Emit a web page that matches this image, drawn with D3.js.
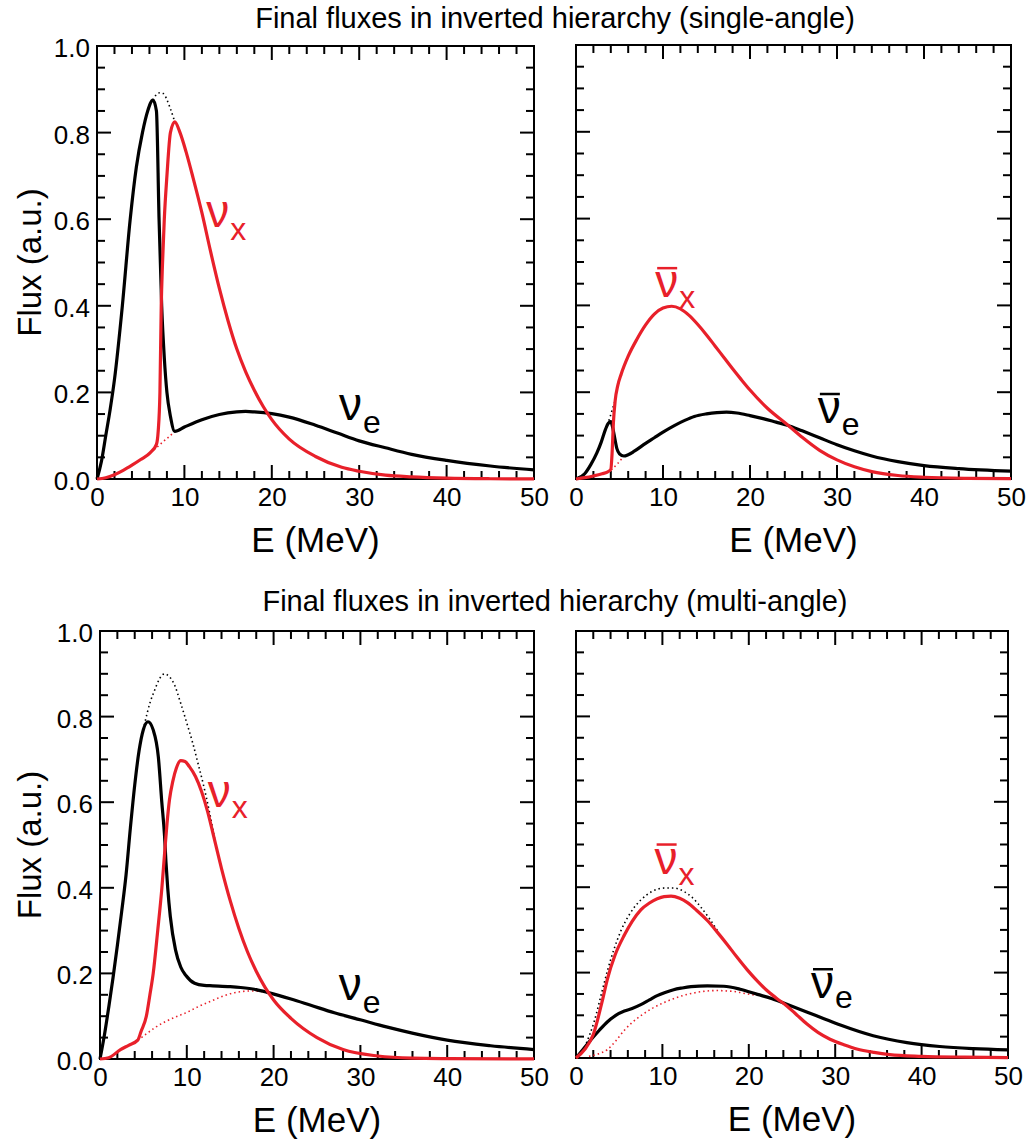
<!DOCTYPE html>
<html>
<head>
<meta charset="utf-8">
<title>Final fluxes in inverted hierarchy</title>
<script src="https://cdnjs.cloudflare.com/ajax/libs/d3/7.8.5/d3.min.js"></script>
<style>
	body { margin: 0; background: #fff; }
	text { font-family: "Liberation Sans", Arial, sans-serif; }
</style>
</head>
<body>
<div id="chart-area"></div>
<script>

// Tick labels
var energyTicks = [0, 10, 20, 30, 40, 50];
var fluxTicks = [0.0, 0.2, 0.4, 0.6, 0.8, 1.0];

var titles = ["Final fluxes in inverted hierarchy (single-angle)",
		"Final fluxes in inverted hierarchy (multi-angle)"];

// Single-angle, neutrinos: [E (MeV), flux]
var saNueFinal = [[0,0],[0.5,0.04],[1,0.1],[1.5,0.16],[2,0.23],[2.9,0.4],[3.8,0.6],[4.5,0.72],[5.2,0.8],[5.8,0.85],[6.4,0.875],[6.8,0.85],[7.1,0.6],[7.4,0.4],[7.7,0.28],[8.0,0.2],[8.4,0.145],[8.9,0.11],[10,0.12],[12,0.137],[14,0.149],[16,0.155],[17,0.156],[18,0.155],[20,0.151],[22,0.143],[25,0.124],[27.5,0.106],[30,0.088],[33,0.072],[36,0.057],[40,0.043],[45,0.03],[50,0.021]];
var saNuxFinal = [[0,0],[1,0.003],[2,0.01],[3,0.02],[4,0.032],[5,0.045],[6.1,0.061],[6.8,0.08],[7.0,0.11],[7.2,0.2],[7.35,0.4],[7.5,0.5],[7.7,0.6],[8.0,0.7],[8.4,0.8],[8.9,0.825],[9.5,0.8],[10.2,0.755],[11,0.695],[12,0.615],[13,0.525],[14,0.44],[15,0.365],[16,0.3],[17,0.248],[18,0.205],[19,0.168],[20,0.137],[22,0.092],[25,0.052],[28,0.027],[30,0.018],[33,0.009],[36,0.005],[40,0.002],[45,0.0006],[50,0.0002]];
var saNueInit = [[6.4,0.875],[6.8,0.888],[7.2,0.892],[7.6,0.89],[8.0,0.876],[8.4,0.855],[8.9,0.825]];
var saNuxInit = [[6.1,0.061],[6.8,0.072],[7.5,0.085],[8.2,0.097],[8.9,0.11]];

// Single-angle, antineutrinos
var saAnueFinal = [[0,0],[1,0.012],[1.7,0.033],[2.4,0.06],[2.9,0.085],[3.4,0.115],[3.7,0.128],[4.0,0.132],[4.2,0.12],[4.4,0.1],[4.7,0.07],[5.0,0.058],[5.5,0.053],[6.0,0.056],[6.7,0.064],[8,0.082],[9,0.095],[10,0.108],[11.3,0.123],[12.5,0.135],[13.6,0.144],[15,0.15],[16.2,0.153],[17.3,0.154],[18.5,0.152],[20,0.146],[21.5,0.139],[23,0.131],[24.3,0.124],[26,0.111],[28,0.095],[30,0.079],[32,0.065],[34,0.053],[37,0.04],[40,0.031],[44,0.024],[50,0.018]];
var saAnuxFinal = [[0,0],[1,0.003],[2,0.007],[3,0.012],[3.6,0.016],[4.0,0.022],[4.15,0.06],[4.3,0.13],[4.5,0.18],[4.8,0.215],[5.2,0.242],[6,0.283],[7,0.322],[8,0.355],[9,0.38],[10,0.394],[11,0.398],[12,0.392],[13,0.377],[14,0.356],[15,0.332],[16,0.306],[17,0.28],[18,0.254],[19,0.229],[20,0.205],[22,0.163],[24.3,0.125],[26,0.096],[28,0.066],[30,0.044],[32,0.028],[34,0.017],[37,0.008],[40,0.004],[45,0.0015],[50,0.0008]];
var saAnueInit = [[3.6,0.125],[3.9,0.142],[4.2,0.162],[4.5,0.18]];
var saAnuxInit = [[3.6,0.016],[4.2,0.024],[4.8,0.036],[5.5,0.053]];

// Multi-angle, neutrinos
var maNueFinal = [[0,0],[0.5,0.055],[1,0.12],[1.5,0.19],[2,0.265],[2.5,0.345],[3,0.43],[3.5,0.54],[4,0.64],[4.5,0.72],[5,0.77],[5.53,0.788],[6.13,0.769],[6.72,0.706],[7.12,0.6],[7.44,0.52],[7.6,0.46],[7.8,0.4],[8.1,0.333],[8.7,0.255],[9.3,0.215],[9.9,0.195],[10.9,0.177],[12,0.172],[13,0.171],[15,0.169],[16.2,0.167],[18,0.162],[19.4,0.155],[22,0.14],[24.2,0.126],[27,0.108],[30.1,0.091],[33,0.075],[36.1,0.06],[40,0.044],[45,0.031],[50,0.022]];
var maNuxFinal = [[0,0],[1,0.003],[2.36,0.022],[3.3,0.032],[4.35,0.044],[4.74,0.065],[5.34,0.1],[5.75,0.15],[6.13,0.2],[6.65,0.3],[7.13,0.4],[7.44,0.48],[7.72,0.55],[8.0,0.605],[8.4,0.65],[8.8,0.68],[9.3,0.697],[9.8,0.695],[10.3,0.683],[11,0.66],[11.7,0.625],[12.4,0.578],[13.1,0.52],[14,0.445],[15,0.37],[16,0.305],[17,0.25],[18,0.205],[19,0.168],[20,0.138],[22,0.095],[25,0.05],[28,0.022],[32,0.007],[36,0.002],[40,0.001],[50,0.0002]];
var maNueInit = [[5.1,0.78],[5.8,0.835],[6.3,0.862],[6.9,0.89],[7.44,0.9],[8,0.893],[8.5,0.878],[9.3,0.831],[10,0.785],[10.7,0.737],[11.3,0.69],[11.9,0.642],[12.6,0.578],[13.2,0.515]];
var maNuxInit = [[4.35,0.044],[5.3,0.058],[6.3,0.073],[7.5,0.087],[8.7,0.098],[9.9,0.108],[11.5,0.124],[13.1,0.138],[14.3,0.148],[15.5,0.155],[16.5,0.158],[17.5,0.159],[19,0.157]];

// Multi-angle, antineutrinos
var maAnueFinal = [[0,0],[0.9,0.022],[1.7,0.042],[2.7,0.065],[3.65,0.085],[4.6,0.1],[5.6,0.11],[6.5,0.116],[7.5,0.125],[8.5,0.136],[9.4,0.146],[10.4,0.154],[11.3,0.16],[12.3,0.164],[13.3,0.167],[15.2,0.169],[17.1,0.168],[19,0.161],[21,0.149],[22.7,0.139],[24.4,0.126],[26.7,0.108],[28.7,0.092],[30.6,0.077],[34.4,0.052],[38.3,0.036],[42.1,0.027],[46,0.022],[50,0.019]];
var maAnuxFinal = [[0,0],[1,0.02],[2,0.055],[3,0.13],[3.65,0.186],[4.5,0.24],[5.6,0.288],[6.5,0.32],[7.5,0.347],[8.5,0.363],[9.4,0.373],[10.2,0.378],[11,0.379],[12,0.374],[12.9,0.364],[14,0.345],[15.2,0.322],[16.3,0.296],[17.5,0.266],[18.6,0.237],[19.8,0.207],[21,0.18],[22.1,0.158],[23.2,0.14],[24.4,0.122],[25.5,0.102],[26.7,0.08],[28,0.06],[29.4,0.044],[31,0.031],[32.5,0.021],[34.5,0.013],[36.3,0.008],[40,0.004],[45,0.002],[50,0.001]];
var maAnueInit = [[1.2,0.035],[2.1,0.085],[3,0.155],[3.65,0.205],[4.4,0.255],[5.2,0.298],[6.3,0.34],[7.5,0.37],[8.8,0.39],[10.2,0.398],[11.3,0.398],[12.5,0.39],[13.5,0.375],[14.5,0.352],[15.5,0.325],[16.5,0.294]];
var maAnuxInit = [[1.5,0.004],[2.5,0.009],[3.65,0.02],[4.6,0.04],[5.6,0.065],[6.5,0.083],[7.5,0.099],[8.8,0.116],[10.2,0.13],[11.3,0.139],[12.5,0.147],[13.8,0.153],[15.2,0.157],[16.3,0.158],[17.5,0.157],[18.6,0.155],[19.8,0.15],[21,0.147]];

var red = "#e8202a";

var panels = [
	{ left:97, top:46, width:437, height:433, yLabels:true,
		black:saNueFinal, red:saNuxFinal, blackDot:saNueInit, redDot:saNuxInit,
		labels:[{ e:12.5, f:0.582, sub:"x", bar:false, color:red, shift:13 },
				{ e:27.7, f:0.136, sub:"e", bar:false, color:"#000", shift:13 }] },
	{ left:576, top:45, width:435, height:434, yLabels:false,
		black:saAnueFinal, red:saAnuxFinal, blackDot:saAnueInit, redDot:saAnuxInit,
		labels:[{ e:9.1, f:0.419, sub:"x", bar:true, color:red, shift:11 },
				{ e:27.8, f:0.129, sub:"e", bar:true, color:"#000", shift:12 }] },
	{ left:100, top:631, width:434, height:428, yLabels:true,
		black:maNueFinal, red:maNuxFinal, blackDot:maNueInit, redDot:maNuxInit,
		labels:[{ e:12.4, f:0.589, sub:"x", bar:false, color:red, shift:11 },
				{ e:27.5, f:0.138, sub:"e", bar:false, color:"#000", shift:13 }] },
	{ left:576, top:631, width:432, height:427, yLabels:false,
		black:maAnueFinal, red:maAnuxFinal, blackDot:maAnueInit, redDot:maAnuxInit,
		labels:[{ e:9.1, f:0.432, sub:"x", bar:true, color:red, shift:11 },
				{ e:27.2, f:0.14, sub:"e", bar:true, color:"#000", shift:10 }] }
];

var svg = d3.select("#chart-area")
		.append("svg")
				.attr("width", 1028)
				.attr("height", 1142);

// Titles
svg.append("text")
		.attr("x", 555)
		.attr("y", 28)
		.attr("font-size", "29px")
		.attr("text-anchor", "middle")
		.text(titles[0]);
svg.append("text")
		.attr("x", 555)
		.attr("y", 611)
		.attr("font-size", "29px")
		.attr("text-anchor", "middle")
		.text(titles[1]);

panels.forEach(function(p){
		var g = svg.append("g")
				.attr("transform", "translate(" + p.left + ", " + p.top + ")");

		var x = d3.scaleLinear().domain([0, 50]).range([0, p.width]);
		var y = d3.scaleLinear().domain([0, 1]).range([p.height, 0]);

		// minor every 2 MeV and every 0.05, major on the labelled values
		var xTicks = d3.range(0, 51, 2).map(function(v){
				return { v: v, len: energyTicks.indexOf(v) >= 0 ? 14 : 8 };
		});
		var yTicks = d3.range(0, 21).map(function(i){
				return { v: i * 0.05, len: i % 4 === 0 ? 14 : 8 };
		});

		// Ticks on all four sides, pointing in
		var ticks = g.append("g")
				.attr("stroke", "#000")
				.attr("stroke-width", 2);
		ticks.selectAll(".tb").data(xTicks).enter().append("line")
				.attr("x1", function(d){ return x(d.v); })
				.attr("x2", function(d){ return x(d.v); })
				.attr("y1", p.height)
				.attr("y2", function(d){ return p.height - d.len; });
		ticks.selectAll(".tt").data(xTicks).enter().append("line")
				.attr("x1", function(d){ return x(d.v); })
				.attr("x2", function(d){ return x(d.v); })
				.attr("y1", 0)
				.attr("y2", function(d){ return d.len; });
		ticks.selectAll(".tl").data(yTicks).enter().append("line")
				.attr("x1", 0)
				.attr("x2", function(d){ return d.len; })
				.attr("y1", function(d){ return y(d.v); })
				.attr("y2", function(d){ return y(d.v); });
		ticks.selectAll(".tr").data(yTicks).enter().append("line")
				.attr("x1", p.width)
				.attr("x2", function(d){ return p.width - d.len; })
				.attr("y1", function(d){ return y(d.v); })
				.attr("y2", function(d){ return y(d.v); });

		// X-Axis labels
		g.append("g")
				.attr("class", "x-axis")
				.attr("transform", "translate(0, " + p.height + ")")
				.call(d3.axisBottom(x).tickValues(energyTicks).tickSize(0).tickPadding(9)
						.tickFormat(d3.format("d")));

		// Y-Axis labels
		if (p.yLabels) {
				g.append("g")
						.attr("class", "y-axis")
						.call(d3.axisLeft(y).tickValues(fluxTicks).tickSize(0).tickPadding(7)
								.tickFormat(d3.format(".1f")));
		}

		g.selectAll(".domain").remove();
		g.selectAll(".tick line").remove();
		g.selectAll(".tick text")
				.attr("font-family", "Liberation Sans, Arial, sans-serif")
				.attr("font-size", "26px")
				.attr("fill", "#000");
		g.selectAll(".y-axis .tick text").attr("dy", "0.4em");

		// Frame
		g.append("rect")
				.attr("width", p.width)
				.attr("height", p.height)
				.attr("fill", "none")
				.attr("stroke", "#000")
				.attr("stroke-width", 2);

		var line = d3.line()
				.x(function(d){ return x(d[0]); })
				.y(function(d){ return y(d[1]); })
				.curve(d3.curveMonotoneX);

		// Initial spectra (dotted)
		g.append("path").attr("d", line(p.redDot))
				.attr("fill", "none").attr("stroke", red)
				.attr("stroke-width", 1.6).attr("stroke-dasharray", "1.5,3");
		g.append("path").attr("d", line(p.blackDot))
				.attr("fill", "none").attr("stroke", "#000")
				.attr("stroke-width", 1.6).attr("stroke-dasharray", "1.5,3");

		// Final spectra
		g.append("path").attr("d", line(p.black))
				.attr("fill", "none").attr("stroke", "#000")
				.attr("stroke-width", 3.2).attr("stroke-linejoin", "round");
		g.append("path").attr("d", line(p.red))
				.attr("fill", "none").attr("stroke", red)
				.attr("stroke-width", 3.2).attr("stroke-linejoin", "round");

		// Curve labels
		p.labels.forEach(function(l){
				var lx = x(l.e), ly = y(l.f);
				var nu = g.append("text")
						.attr("x", lx)
						.attr("y", ly)
						.attr("font-size", "46px")
						.attr("fill", l.color)
						.text("\u03BD");
				var w = nu.node().getComputedTextLength();
				g.append("text")
						.attr("x", lx + w + 1)
						.attr("y", ly + l.shift)
						.attr("font-size", "32px")
						.attr("fill", l.color)
						.text(l.sub);
				if (l.bar) {
						g.append("line")
								.attr("x1", lx + 2)
								.attr("x2", lx + w - 1)
								.attr("y1", ly - 29)
								.attr("y2", ly - 29)
								.attr("stroke", l.color)
								.attr("stroke-width", 2.5);
				}
		});

		// X Label
		g.append("text")
				.attr("x", p.width / 2)
				.attr("y", p.height + 73)
				.attr("font-size", "35px")
				.attr("text-anchor", "middle")
				.text("E (MeV)");

		// Y Label
		if (p.yLabels) {
				g.append("text")
						.attr("transform", "translate(" + (41 - p.left) + ", " + (p.height / 2) + ") rotate(-90)")
						.attr("font-size", "33px")
						.attr("text-anchor", "middle")
						.text("Flux (a.u.)");
		}
});

</script>
</body>
</html>
